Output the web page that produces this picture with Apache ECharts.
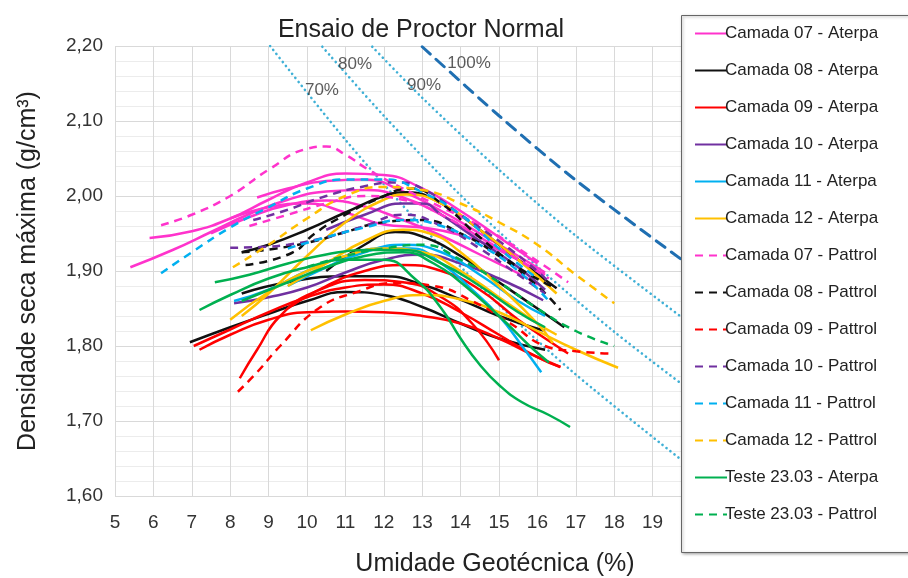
<!DOCTYPE html>
<html>
<head>
<meta charset="utf-8">
<script src="https://cdn.jsdelivr.net/npm/echarts@6/dist/echarts.min.js"></script>
<style>
  html, body { margin: 0; padding: 0; background: #fff; }
  #chart { width: 908px; height: 578px; }
</style>
</head>
<body>
<div id="chart"></div>
<script>
// one entry per legend item, each holds the curves of that group: [umidade, densidade]
const camada07Aterpa = [
  [[5.4,1.905],[6.5,1.928],[7.5,1.952],[8.5,1.976],[9.5,1.995],[10.5,2.006],[11.5,2.008],[12.5,1.998],[13.5,1.975],[14.5,1.945],[15.5,1.915],[16.2,1.895]],
  [[5.9,1.944],[7,1.953],[8,1.97],[9,1.995],[10,2.018],[11,2.03],[12,2.028],[13,2.01],[14,1.98],[15,1.945],[16,1.91]],
  [[7.5,1.95],[8.5,1.972],[9.5,1.988],[10.5,1.994],[11.5,1.986],[12.5,1.968],[13.5,1.947],[14.5,1.922],[15.5,1.897],[16,1.882]],
  [[8,1.97],[9,1.985],[10,1.99],[11,1.978],[12,1.962],[13,1.958],[14,1.948],[15,1.928],[16,1.9]],
  [[8.7,1.998],[9.5,2.01],[10.5,2.02],[11.5,2.022],[12.5,2.006],[13.5,1.98],[14.5,1.95],[15.5,1.92],[16.2,1.898]]
];
const camada08Aterpa = [
  [[8.3,1.925],[9,1.935],[10,1.955],[11,1.978],[12,2.0],[12.6,2.005],[13.5,1.99],[14.5,1.955],[15.5,1.915],[16.5,1.877]],
  [[10.5,1.9],[11.5,1.935],[12.3,1.952],[13,1.946],[14,1.92],[15,1.885],[16,1.85],[16.7,1.825]],
  [[8.3,1.87],[9.5,1.885],[11,1.893],[12,1.893],[13,1.882],[14,1.862],[15,1.84],[16.2,1.82]],
  [[6.95,1.805],[8,1.825],[9,1.843],[10,1.86],[11,1.872],[12,1.868],[13,1.852],[14,1.83],[15,1.81],[16.2,1.795]]
];
const camada09Aterpa = [
  [[7.2,1.795],[8,1.815],[9,1.835],[10,1.845],[11,1.846],[12,1.845],[13,1.84],[14,1.83],[15,1.81],[15.8,1.79],[16.6,1.772]],
  [[7.05,1.8],[8,1.822],[9,1.845],[10,1.865],[11,1.878],[12,1.882],[13,1.87],[14,1.845],[15,1.815],[16,1.785],[16.6,1.772]],
  [[8.25,1.757],[8.7,1.795],[9.3,1.84],[10.2,1.872],[11.5,1.888],[12.5,1.885],[13.5,1.865],[14.3,1.83],[15,1.781]],
  [[9.5,1.85],[10.5,1.88],[11.5,1.9],[12.5,1.908],[13.5,1.9],[14.5,1.875],[15.5,1.835],[16.5,1.8],[16.8,1.79]]
];
const camada10Aterpa = [
  [[8.1,1.857],[9,1.865],[10,1.878],[11,1.898],[12,1.915],[13,1.922],[14,1.91],[15,1.89],[16.15,1.861]],
  [[10.5,1.955],[11.5,1.975],[12.5,1.99],[13,1.99],[13.5,1.975],[14.5,1.94],[15.5,1.905],[16.2,1.875]]
];
const camada11Aterpa = [
  [[8.1,1.86],[9,1.875],[10,1.9],[11,1.92],[12,1.93],[12.7,1.93],[13.5,1.91],[14.3,1.875],[15,1.84],[15.6,1.8],[16.1,1.765]],
  [[9.5,1.88],[10.5,1.905],[11.5,1.925],[12.5,1.935],[13.5,1.925],[14.5,1.895],[15.5,1.86],[16.2,1.84]]
];
const camada12Aterpa = [
  [[8.3,1.84],[9,1.87],[10,1.92],[11,1.965],[12,1.995],[12.6,2.002],[13.5,1.99],[14.5,1.955],[15.5,1.915],[16.5,1.87]],
  [[9.5,1.88],[10.5,1.91],[11.5,1.94],[12.5,1.955],[13.2,1.95],[14,1.925],[15,1.88],[16,1.83],[16.4,1.804]],
  [[10.1,1.821],[11,1.842],[12,1.86],[13,1.868],[14,1.862],[15,1.845],[16,1.82],[17,1.795],[18.1,1.771]],
  [[8,1.835],[9,1.872],[10,1.9],[11,1.92],[12,1.93],[13,1.925],[14,1.9],[15,1.865],[16,1.83],[16.5,1.815]]
];
const camada07Pattrol = [
  [[6.2,1.961],[7,1.975],[8,2.0],[9,2.035],[10,2.063],[10.5,2.066],[11,2.055],[11.6,2.035],[12.5,2.01],[13.5,1.985],[14.5,1.96],[15.5,1.93],[16.8,1.885]],
  [[8.5,1.96],[9.5,1.975],[10.5,1.99],[11.5,2.0],[12.5,1.995],[13.5,1.975],[14.5,1.945],[15.5,1.915],[16.3,1.89]]
];
const camada08Pattrol = [
  [[8.4,1.908],[9.6,1.924],[10.2,1.95],[11,1.975],[11.8,1.995],[12.7,2.01],[13.5,1.99],[14.5,1.945],[15.5,1.905],[16.4,1.879]],
  [[8.3,1.925],[9.2,1.93],[10.2,1.94],[11,1.952],[12,1.965],[13,1.968],[14,1.95],[15,1.92],[16,1.88],[16.6,1.848]]
];
const camada09Pattrol = [
  [[8.2,1.739],[8.7,1.765],[9.3,1.8],[10.3,1.85],[11.3,1.872],[12.3,1.884],[13.3,1.88],[14.3,1.86],[15.3,1.83],[16.2,1.8],[17,1.793],[17.9,1.79]]
];
const camada10Pattrol = [
  [[8,1.931],[8.8,1.932],[9.5,1.935],[10.5,1.945],[11.5,1.96],[12.5,1.975],[13.5,1.96],[14.5,1.93],[15.5,1.895],[16.2,1.87]],
  [[8.6,1.968],[9.4,1.98],[10.5,2.0],[11.5,2.013],[12.3,2.018],[13,2.01],[14,1.975],[15,1.94],[16,1.9],[16.3,1.885]]
];
const camada11Pattrol = [
  [[6.2,1.897],[7,1.925],[8,1.958],[9,1.985],[10,2.01],[11,2.022],[12,2.022],[13,2.005],[14,1.975],[15,1.93],[16,1.89]],
  [[9.5,1.93],[10.5,1.945],[11.5,1.958],[12.5,1.968],[13.5,1.96],[14.5,1.935],[15.5,1.9],[16.3,1.86]]
];
const camada12Pattrol = [
  [[8.07,1.905],[9,1.935],[10,1.97],[11,2.0],[12,2.012],[13,2.008],[14,1.99],[15,1.965],[16,1.935],[17,1.895],[18,1.857]]
];
const teste2303Aterpa = [
  [[7.2,1.848],[8,1.868],[9,1.89],[10,1.905],[11,1.915],[12,1.915],[12.8,1.89],[13.5,1.85],[14,1.81],[14.5,1.775],[15,1.748],[15.6,1.725],[16.3,1.708],[16.85,1.692]],
  [[7.6,1.885],[8.5,1.895],[9.5,1.91],[10.5,1.922],[11.5,1.928],[12.5,1.928],[13.5,1.91],[14.5,1.88],[15.5,1.845],[16.2,1.825]],
  [[8.3,1.86],[9.5,1.885],[10.5,1.905],[11.5,1.92],[12.5,1.925],[13.3,1.91],[14,1.885],[15,1.84],[15.8,1.8],[16.3,1.778]]
];
const teste2303Pattrol = [
  [[10,1.905],[11,1.92],[12,1.93],[13,1.935],[14,1.915],[15,1.885],[16,1.85],[17,1.82],[18,1.8]]
];

// curvas de saturacao
const sat70 = [[9.04,2.2],[11,2.075],[13,1.959],[15,1.855],[17,1.762],[20,1.638]];
const sat80 = [[10.4,2.199],[12,2.107],[14,2.001],[16,1.906],[18,1.819],[20,1.74]];
const sat90 = [[11.7,2.199],[13,2.131],[15,2.035],[17,1.947],[20,1.829]];
const sat100 = [[13,2.199],[15,2.107],[17,2.021],[20,1.906]];
const satLabels = [[10.39,2.141,'70%'],[11.25,2.176,'80%'],[13.05,2.147,'90%'],[14.22,2.177,'100%']];

const xTicks = [5,6,7,8,9,10,11,12,13,14,15,16,17,18,19,20];

const groups = [
  ['Camada 07 - Aterpa', camada07Aterpa, '#ff33cc', false],
  ['Camada 08 - Aterpa', camada08Aterpa, '#111111', false],
  ['Camada 09 - Aterpa', camada09Aterpa, '#ff0000', false],
  ['Camada 10 - Aterpa', camada10Aterpa, '#7030a0', false],
  ['Camada 11 - Aterpa', camada11Aterpa, '#00b0f0', false],
  ['Camada 12 - Aterpa', camada12Aterpa, '#ffc000', false],
  ['Camada 07 - Pattrol', camada07Pattrol, '#ff33cc', true],
  ['Camada 08 - Pattrol', camada08Pattrol, '#111111', true],
  ['Camada 09 - Pattrol', camada09Pattrol, '#ff0000', true],
  ['Camada 10 - Pattrol', camada10Pattrol, '#7030a0', true],
  ['Camada 11 - Pattrol', camada11Pattrol, '#00b0f0', true],
  ['Camada 12 - Pattrol', camada12Pattrol, '#ffc000', true],
  ['Teste 23.03 - Aterpa', teste2303Aterpa, '#00b050', false],
  ['Teste 23.03 - Pattrol', teste2303Pattrol, '#00b050', true]
];

const series = [];

function satLine(name, data, color, dash, width) {
  return {
    name: name,
    type: 'line',
    data: data,
    smooth: 0.3,
    symbol: 'none',
    silent: true,
    z: 1,
    lineStyle: { color: color, width: width, type: dash, cap: 'round' }
  };
}
series.push(satLine('70%', sat70, '#3fb0d6', [0.1, 5], 2.6));
series.push(satLine('80%', sat80, '#3fb0d6', [0.1, 5], 2.6));
series.push(satLine('90%', sat90, '#3fb0d6', [0.1, 5], 2.6));
series.push(satLine('100%', sat100, '#1f6fb2', [11, 8], 3));

groups.forEach(function (g) {
  g[1].forEach(function (pts) {
    series.push({
      name: g[0],
      type: 'line',
      data: pts,
      smooth: 0.5,
      symbol: 'none',
      z: 3,
      itemStyle: { color: g[2] },
      lineStyle: { color: g[2], width: 2.5, type: g[3] ? [8, 6] : 'solid' }
    });
  });
});

series.push({
  name: 'rotulos',
  type: 'scatter',
  data: satLabels,
  symbolSize: 0,
  silent: true,
  label: {
    show: true,
    position: 'inside',
    formatter: function (p) { return p.value[2]; },
    fontSize: 17,
    color: '#333',
    fontFamily: 'Liberation Sans'
  }
});

const chart = echarts.init(document.getElementById('chart'));
chart.setOption({
  animation: false,
  backgroundColor: '#fff',
  textStyle: { fontFamily: 'Liberation Sans' },
  title: {
    text: 'Ensaio de Proctor Normal',
    left: 416,
    top: 13,
    textAlign: 'center',
    textStyle: { fontSize: 25, fontWeight: 'normal', color: '#222' }
  },
  grid: { left: 115, right: 217, top: 46, bottom: 82, outerBoundsMode: 'none' },
  xAxis: {
    type: 'value',
    min: xTicks[0],
    max: xTicks[xTicks.length - 1],
    interval: 1,
    name: 'Umidade Geotécnica (%)',
    nameLocation: 'middle',
    nameGap: 56,
    nameTextStyle: { fontSize: 25, color: '#222', padding: [0, 0, 0, 184] },
    axisLine: { show: false },
    axisTick: { show: false },
    axisLabel: { fontSize: 19, color: '#333', margin: 17 },
    splitLine: { show: true, lineStyle: { color: '#d9d9d9', width: 1 } }
  },
  yAxis: {
    type: 'value',
    min: 1.6,
    max: 2.2,
    interval: 0.1,
    name: 'Densidade seca máxima (g/cm³)',
    nameLocation: 'middle',
    nameGap: 74,
    nameTextStyle: { fontSize: 25, color: '#222' },
    axisLine: { show: false },
    axisTick: { show: false },
    axisLabel: {
      fontSize: 19, color: '#333', margin: 12,
      formatter: function (v) { return v.toFixed(2).replace('.', ','); }
    },
    splitLine: { show: true, lineStyle: { color: '#d9d9d9', width: 1 } },
    minorTick: { show: false, splitNumber: 5 },
    minorSplitLine: { show: true, lineStyle: { color: '#ececec', width: 1 } }
  },
  legend: {
    orient: 'vertical',
    left: 689,
    top: 20,
    itemWidth: 32,
    itemHeight: 14,
    itemGap: 20,
    z: 120,
    itemStyle: { opacity: 0 },
    textStyle: { fontSize: 17, color: '#222', padding: [0, 0, 0, -7] },
    data: groups.map(function (g) { return g[0]; })
  },
  graphic: [{
    type: 'rect',
    left: 681,
    top: 15,
    z: 100,
    shape: { width: 240, height: 537 },
    style: {
      fill: '#fff', stroke: '#666', lineWidth: 1,
      shadowBlur: 3, shadowOffsetX: 1, shadowOffsetY: 1, shadowColor: 'rgba(0,0,0,0.35)'
    }
  }],
  series: series
});
</script>
</body>
</html>
